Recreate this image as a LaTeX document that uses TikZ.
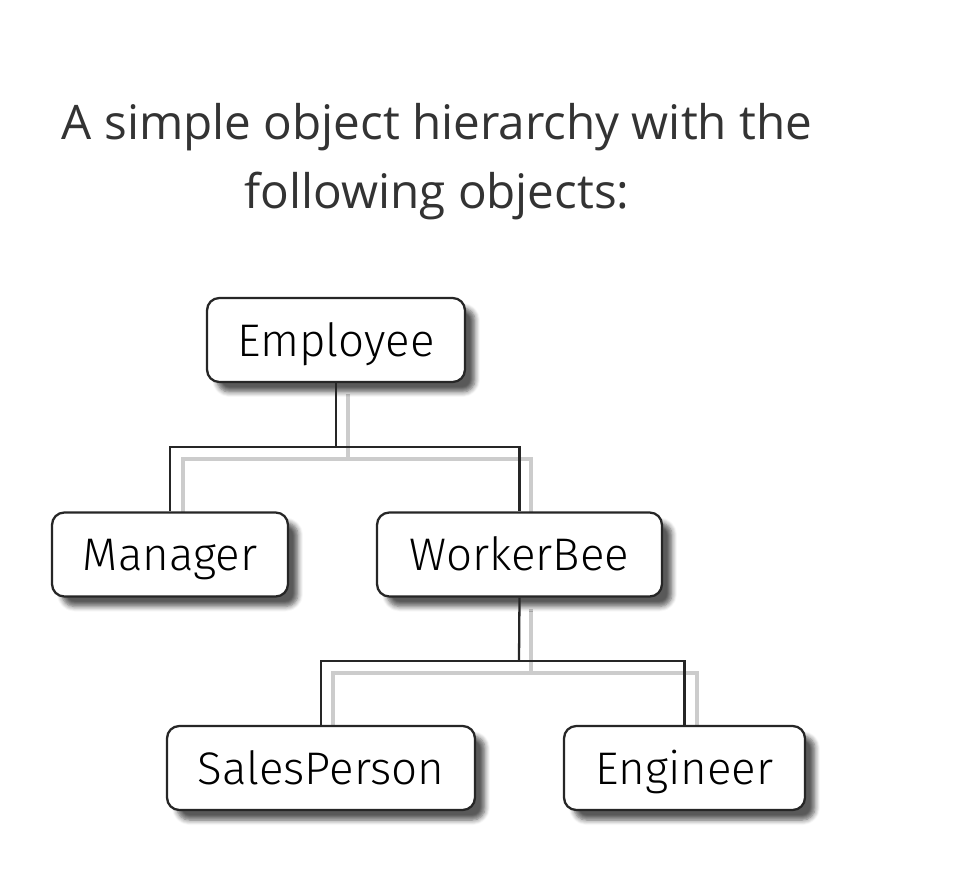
\documentclass[tikz,border=0pt]{standalone}
\usepackage{fontspec}
\setmainfont{Open Sans}
\newfontfamily\boxfont{Fira Sans}[UprightFont=* Light]
\usetikzlibrary{shadows.blur}

\definecolor{titlegray}{HTML}{333333}

\tikzset{
  classbox/.style={draw=black!85, line width=1.3pt, rounded corners=7pt, fill=white,
    minimum height=1.68cm, inner xsep=0pt, text height=0.8cm, text depth=0.16cm,
    font=\boxfont\fontsize{26}{31}\selectfont,
    blur shadow={shadow xshift=0.2cm, shadow yshift=-0.2cm, shadow blur steps=6,
      shadow blur radius=0.1cm, shadow opacity=65}},
  link/.style={line width=1.3pt, black!85},
  linkshadow/.style={line width=2pt, black!20},
  titletext/.style={text=titlegray, font=\fontsize{27.1}{33}\selectfont},
}

\begin{document}
\begin{tikzpicture}[x=0.02cm, y=-0.02cm]
    \useasboundingbox (0,0) rectangle (961,879);
    % title
    \node[titletext] (title1) at (437,127) {A simple object hierarchy with the};
    \node[titletext] (title2) at (437,196) {following objects:};
    % joints of the tree
    \coordinate (bar1) at (336,447);
    \coordinate (bar2) at (519,661);
    % connector shadows
    \begin{scope}[xshift=0.24cm, yshift=-0.24cm]
    \draw[linkshadow] (336,382) -- (336,447);
    \draw[linkshadow] (171,512) |- (336,447) -| (519,512);
    \draw[linkshadow] (519,597) -- (519,661);
    \draw[linkshadow] (321,726) |- (519,661) -| (685,726);
    \end{scope}
    % boxes
    \node[classbox, minimum width=5.16cm] (employee) at (336,340) {Employee};
    \node[classbox, minimum width=4.72cm] (manager) at (170,554.5) {Manager};
    \node[classbox, minimum width=5.7cm] (workerbee) at (519.5,554.5) {WorkerBee};
    \node[classbox, minimum width=6.16cm] (salesperson) at (321,768) {SalesPerson};
    \node[classbox, minimum width=4.82cm] (engineer) at (684.5,768) {Engineer};
    % connectors
    \draw[link] (employee.south) -- (bar1);
    \draw[link] (manager.north) |- (bar1) -| (workerbee.north);
    \draw[link] (workerbee.south) -- (bar2);
    \draw[link] (salesperson.north) |- (bar2) -| (engineer.north);
\end{tikzpicture}
\end{document}
